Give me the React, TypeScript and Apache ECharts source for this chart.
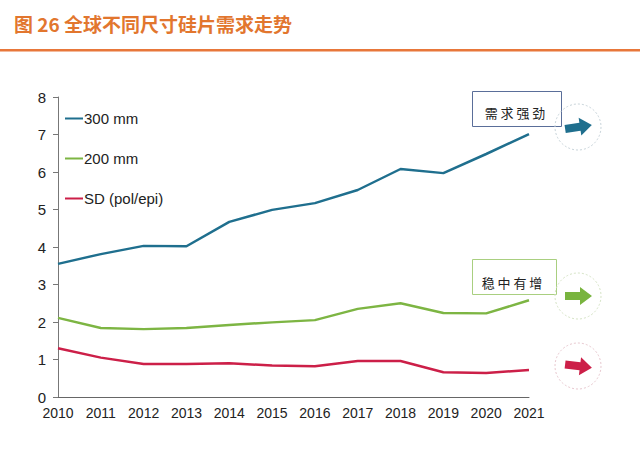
import React, { useEffect, useRef } from "react";
import * as echarts from "echarts";

const years = ["2010", "2011", "2012", "2013", "2014", "2015", "2016", "2017", "2018", "2019", "2020", "2021"];
const s300 = [3.55, 3.81, 4.03, 4.02, 4.67, 4.99, 5.17, 5.52, 6.08, 5.97, 6.48, 7.01];
const s200 = [2.11, 1.84, 1.81, 1.84, 1.92, 1.99, 2.05, 2.35, 2.5, 2.24, 2.23, 2.58];
const sSD = [1.3, 1.05, 0.88, 0.88, 0.9, 0.84, 0.82, 0.96, 0.96, 0.66, 0.64, 0.72];
const seriesNames = ["300 mm", "200 mm", "SD (pol/epi)"];
const colors = ["#1F6F8E", "#7DB543", "#CC1F48"];
const titleText = "图 26 全球不同尺寸硅片需求走势";
const note1 = "需 求 强 劲";
const note2 = "稳 中 有 增";

const arrowPts = [[-13, -4], [2, -4], [2, -9], [14, 0], [2, 9], [2, 4], [-13, 4]];

function arrow(cx: number, cy: number, rot: number, color: string, circleColor: string) {
  return [
    {
      type: "circle",
      shape: { cx, cy, r: 23 },
      style: { fill: "none", stroke: circleColor, lineWidth: 1, lineDash: [2, 2] },
    },
    {
      type: "polygon",
      x: cx,
      y: cy,
      rotation: rot,
      shape: { points: arrowPts },
      style: { fill: color },
    },
  ];
}

export default function App() {
  const ref = useRef<HTMLDivElement>(null);
  useEffect(() => {
    const chart = echarts.init(ref.current!, null, { renderer: "svg" });
    chart.setOption({
      animation: false,
      backgroundColor: "#fff",
      title: {
        text: titleText,
        left: 9,
        top: 9,
        textStyle: { fontSize: 19, fontWeight: "bold", color: "#E2762E", fontFamily: "Noto Sans CJK SC" },
      },
      legend: {
        orient: "vertical",
        left: 60,
        top: 105,
        itemGap: 23,
        itemWidth: 18,
        itemHeight: 2,
        icon: "rect",
        data: seriesNames,
        textStyle: { fontSize: 15, lineHeight: 17, color: "#222", fontFamily: "Liberation Sans, Arial", padding: [0, 0, 0, -4] },
      },
      grid: { left: 58, right: 111, top: 97, bottom: 54 },
      xAxis: {
        type: "category",
        data: years,
        boundaryGap: false,
        axisLine: { lineStyle: { color: "#666", width: 1 } },
        axisTick: { show: false },
        axisLabel: { fontSize: 14, color: "#222", fontFamily: "Liberation Sans, Arial", margin: 9 },
      },
      yAxis: {
        type: "value",
        min: 0,
        max: 8,
        interval: 1,
        splitLine: { show: false },
        axisLine: { show: true, lineStyle: { color: "#777", width: 1 } },
        axisTick: { show: true, length: 5, lineStyle: { color: "#777" } },
        axisLabel: { fontSize: 15, color: "#222", fontFamily: "Liberation Sans, Arial", margin: 12 },
      },
      series: [s300, s200, sSD].map((d, i) => ({
        name: seriesNames[i],
        type: "line",
        data: d,
        symbol: "none",
        color: colors[i],
        lineStyle: { width: 2.5, color: colors[i] },
      })),
      graphic: [
        { type: "rect", shape: { x: 0, y: 49, width: 640, height: 2.5 }, style: { fill: "#E8773A" } },
        {
          type: "rect",
          shape: { x: 472.5, y: 91.5, width: 89, height: 35 },
          style: { fill: "#fff", stroke: "#5A6E99", lineWidth: 1 },
        },
        {
          type: "text",
          x: 515,
          y: 112,
          style: { text: note1, fontSize: 13, fill: "#222", align: "center", verticalAlign: "middle", fontFamily: "Noto Sans CJK SC" },
        },
        {
          type: "rect",
          shape: { x: 472.5, y: 259.5, width: 84, height: 35 },
          style: { fill: "#fff", stroke: "#A9CF80", lineWidth: 1 },
        },
        {
          type: "text",
          x: 512,
          y: 282,
          style: { text: note2, fontSize: 13, fill: "#222", align: "center", verticalAlign: "middle", fontFamily: "Noto Sans CJK SC" },
        },
        ...arrow(578, 127, 0.15, "#1F6F8E", "#C8D4DA"),
        ...arrow(578, 296, 0, "#79B43F", "#D6E4C6"),
        ...arrow(578, 366, -0.12, "#CC1F48", "#E8C8CF"),
      ],
    });
    return () => chart.dispose();
  }, []);
  return <div ref={ref} style={{ position: "fixed", left: 0, top: 0, width: 640, height: 451 }} />;
}
